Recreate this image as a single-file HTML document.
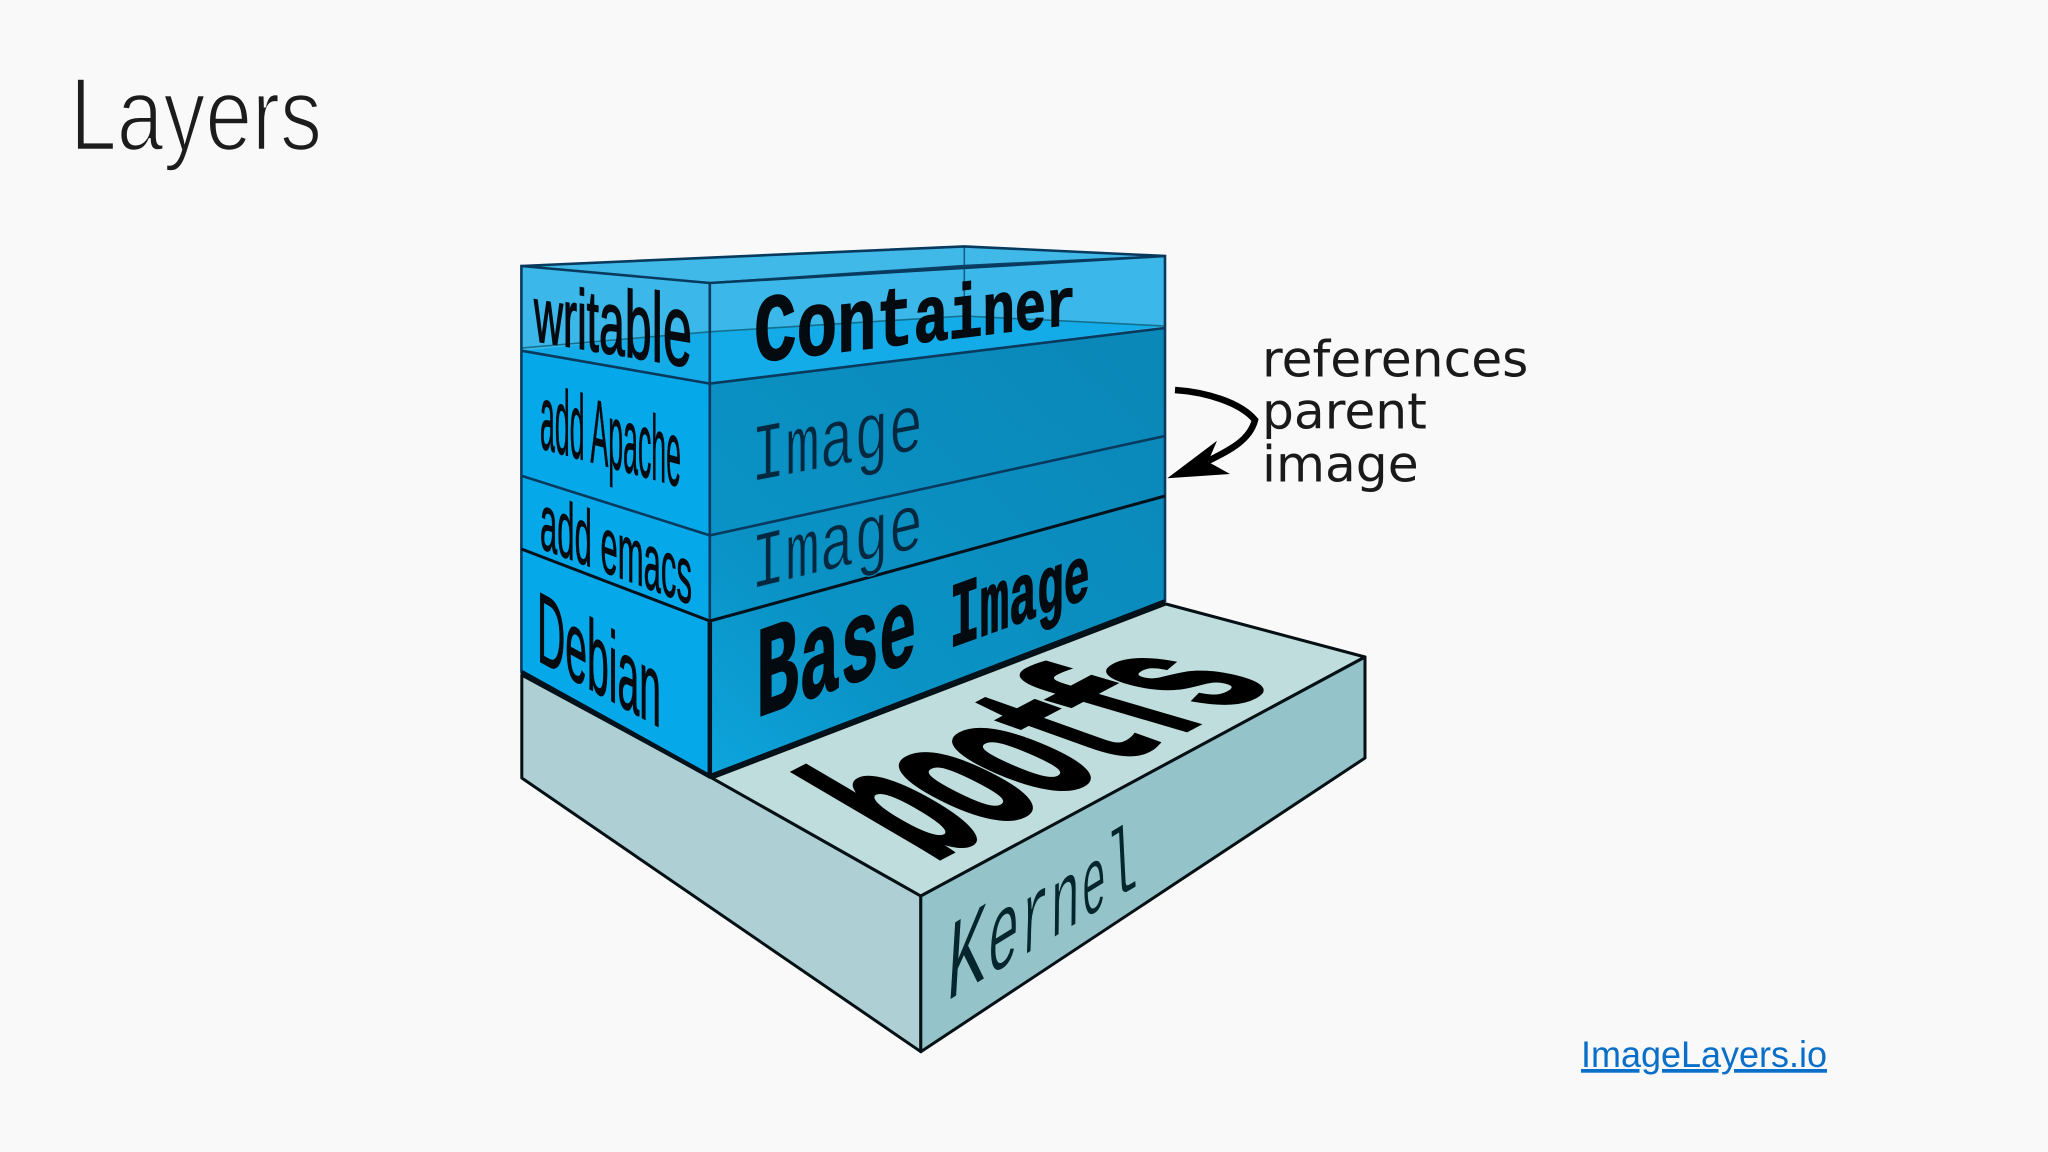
<!DOCTYPE html>
<html>
<head>
<meta charset="utf-8">
<title>Layers</title>
<style>
html,body{margin:0;padding:0;background:#f9f9fa;width:2048px;height:1152px;overflow:hidden}
svg{display:block}
.s{font-family:"Liberation Sans",sans-serif}
.m{font-family:"Liberation Mono",monospace}
.d{font-family:"DejaVu Sans",sans-serif}
</style>
</head>
<body>
<svg xmlns="http://www.w3.org/2000/svg" width="2048" height="1152" viewBox="0 0 2048 1152">
<defs>
<linearGradient id="rf" gradientUnits="userSpaceOnUse" x1="710" y1="770" x2="1100" y2="330">
<stop offset="0" stop-color="#0da4dc"/><stop offset="0.3" stop-color="#0a93c6"/><stop offset="1" stop-color="#0a88b8"/>
</linearGradient>
</defs>
<rect width="2048" height="1152" fill="#f9f9fa"/>

<text x="70" y="150" class="s" font-size="104" textLength="252" lengthAdjust="spacingAndGlyphs" fill="#1c1c1c" stroke="#f9f9fa" stroke-width="2.6">Layers</text>

<!-- slab -->
<g stroke="#041014" stroke-width="3" stroke-linejoin="round">
<polygon points="521.8,675 712,778 920.8,896 920.8,1051.7 521.8,778" fill="#aed0d4"/>
<polygon points="712,778 1166,604 1365,657 920.8,896" fill="#bfdddd"/>
<polygon points="920.8,896 1365,657 1365,758 920.8,1051.7" fill="#94c4c9"/>
</g>

<!-- stack -->
<polygon points="521.4,266 709.8,283 709.8,776.4 521.4,672" fill="#05a9ea"/>
<polygon points="709.8,383.6 1165,328 1165,601.4 709.8,776.4" fill="url(#rf)"/>
<polygon points="521.4,266 709.8,283 1165,256 1165,328 709.8,383.6 521.4,350.7" fill="#3cb7e9"/>
<polygon points="521.4,266 964,246.4 1165,256 709.8,283" fill="#41b9e8"/>
<polygon points="521.4,350.7 709.8,331.8 964,316 1165,326 709.8,383.6" fill="#14ace8"/>

<g fill="none" stroke="#0a3f63" stroke-width="1.6">
<polyline points="521.4,348 709.8,331.8 964,316 1165,326" stroke="#12708f"/>
<line x1="964.3" y1="246.4" x2="964.3" y2="316" stroke="#12608a"/>
<line x1="709.8" y1="283" x2="964.3" y2="265.7" stroke-width="2"/>
<line x1="964.3" y1="265.7" x2="1165" y2="256" stroke-width="2"/>
</g>
<g fill="none" stroke="#083a5e" stroke-width="2.6">
<polyline points="521.4,350.7 709.8,383.6 1165,328"/>
<polyline points="521.4,475.7 709.8,535.4 1165,436"/>
<polyline points="521.4,549 709.8,621 1165,496"/>
<polygon points="521.4,266 964.3,246.4 1165,256 1165,601 709.8,776.4 521.4,672"/>
<polyline points="521.4,266 709.8,283 1165,256"/>
<line x1="709.8" y1="283" x2="709.8" y2="621"/>
</g>
<g fill="none" stroke="#02121c" stroke-width="4.5">
<polyline points="521.4,672 709.8,776.4 1165,601.4"/>
<line x1="709.8" y1="621" x2="709.8" y2="776" />
<line x1="709.8" y1="621" x2="1165" y2="496" stroke-width="3"/>
<line x1="521.4" y1="549" x2="709.8" y2="621" stroke-width="3"/>
</g>

<!-- left face labels -->
<g class="s" fill="#050a10" stroke="#050a10">
<text transform="matrix(0.515 0.087 0 1 534 340.7)" stroke-width="1.6"><tspan font-size="78">w</tspan><tspan font-size="82">r</tspan><tspan font-size="84">i</tspan><tspan font-size="86">t</tspan><tspan font-size="90">a</tspan><tspan font-size="94">b</tspan><tspan font-size="98">l</tspan><tspan font-size="102">e</tspan></text>
<text transform="matrix(1 0.277 0 1 540 448)" font-size="92" stroke-width="0.9" textLength="141" lengthAdjust="spacingAndGlyphs">add Apache</text>
<text transform="matrix(1 0.375 0 1 540 548)" font-size="80" stroke-width="0.9" textLength="152" lengthAdjust="spacingAndGlyphs">add emacs</text>
<text transform="matrix(1 0.55 0 1 537 660)" font-size="100" stroke-width="1.2" textLength="124" lengthAdjust="spacingAndGlyphs">Debian</text>
</g>

<!-- right face labels -->
<g class="m">
<text transform="matrix(0.738 -0.0878 0 1 754 362)" font-weight="bold" fill="#030a10" stroke="#030a10" stroke-width="1.4"><tspan font-size="96">C</tspan><tspan font-size="92">o</tspan><tspan font-size="88">n</tspan><tspan font-size="84">t</tspan><tspan font-size="80">a</tspan><tspan font-size="76">i</tspan><tspan font-size="73">n</tspan><tspan font-size="70">e</tspan><tspan font-size="67">r</tspan></text>
<text transform="matrix(1 -0.193 0 1 751 481.8)" font-size="82" textLength="172" lengthAdjust="spacingAndGlyphs" fill="#04283f" stroke="#0a8cbc" stroke-width="1.2">Image</text>
<text transform="matrix(1 -0.247 0 1 751 589)" font-size="80" textLength="172" lengthAdjust="spacingAndGlyphs" fill="#04283f" stroke="#0a8cbc" stroke-width="1.2">Image</text>
<text transform="matrix(0.552 -0.199 0 1 756 717.5)" font-weight="bold" fill="#030a10" stroke="#030a10" stroke-width="1.6"><tspan font-size="130">B</tspan><tspan font-size="124">a</tspan><tspan font-size="118">s</tspan><tspan font-size="112">e</tspan><tspan font-size="100"> </tspan><tspan font-size="92">I</tspan><tspan font-size="88">m</tspan><tspan font-size="84">a</tspan><tspan font-size="81">g</tspan><tspan font-size="78">e</tspan></text>
</g>

<!-- slab labels -->
<g class="m" font-size="100" font-weight="bold" fill="#000" stroke="#000" stroke-width="2.5">
<text transform="matrix(1.0 -0.52 2.01 1.18 932 862)">b</text>
<text transform="matrix(0.97 -0.51 2.09 1.06 992 830)">o</text>
<text transform="matrix(0.97 -0.51 2.18 0.95 1050 800)">o</text>
<text transform="matrix(0.95 -0.5 2.3 0.82 1112 768)">t</text>
<text transform="matrix(0.95 -0.5 2.38 0.7 1168 740)">f</text>
<text transform="matrix(0.95 -0.5 2.5 0.6 1222 712)">s</text>
</g>
<g class="m" fill="#05262c" stroke="#94c4c9" stroke-width="1.1">
<text transform="matrix(0.56 -0.345 -0.06 1 945 1003)" font-size="118">K</text>
<text transform="matrix(0.476 -0.294 -0.05 1 986 978)" font-size="112">e</text>
<text transform="matrix(0.44 -0.27 -0.03 1 1020 958)" font-size="106">r</text>
<text transform="matrix(0.5 -0.31 -0.01 1 1050 940)" font-size="100">n</text>
<text transform="matrix(0.43 -0.265 0.02 1 1082 920.5)" font-size="96">e</text>
<text transform="matrix(0.54 -0.33 0.05 1 1108 904)" font-size="95">l</text>
</g>

<!-- arrow -->
<path d="M1175,390 C1205,392 1240,402 1255,420 C1250,440 1230,450 1208,461" fill="none" stroke="#000" stroke-width="6.5"/>
<polygon points="1167.3,478.3 1217,440.7 1208,461.7 1230,474" fill="#000"/>

<g class="d" font-size="50.3" fill="#1a1a1a">
<text x="1262" y="376.7">references</text>
<text x="1262" y="428.5">parent</text>
<text x="1262" y="481.7">image</text>
</g>

<text x="1581" y="1067" class="s" font-size="37" textLength="246" lengthAdjust="spacingAndGlyphs" fill="#0a6fc9" text-decoration="underline">ImageLayers.io</text>
</svg>
</body>
</html>
